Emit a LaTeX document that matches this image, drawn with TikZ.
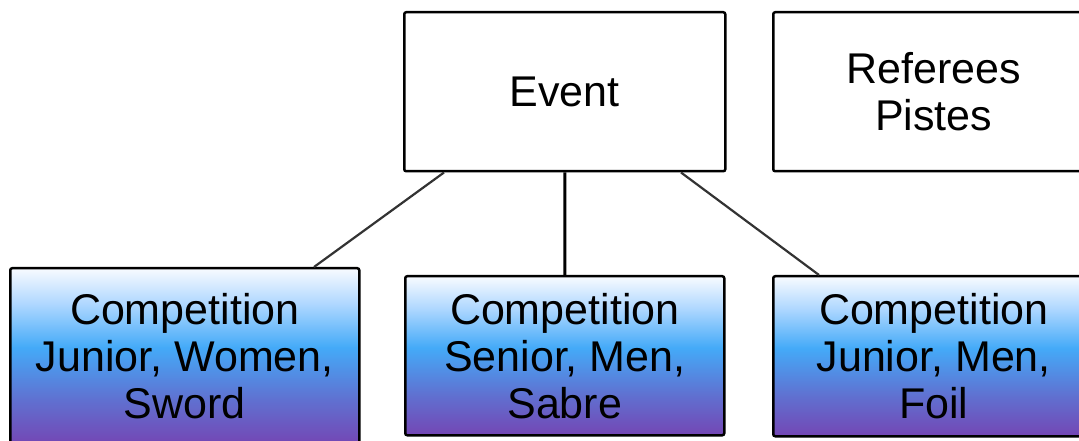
\documentclass[tikz,border=0pt]{standalone}
\usepackage{fontspec}
\setmainfont{Liberation Sans}
\usetikzlibrary{calc}
\definecolor{gTop}{HTML}{F8FBFF}
\definecolor{gHi}{HTML}{B0D8FF}
\definecolor{gMid}{HTML}{44AAF8}
\definecolor{gLow}{HTML}{6070D0}
\definecolor{gBot}{HTML}{7446B4}
\pgfdeclareverticalshading{compgrad}{100bp}{color(0bp)=(gBot); color(25bp)=(gBot); color(37.5bp)=(gLow); color(52.5bp)=(gMid); color(65bp)=(gHi); color(75bp)=(gTop); color(100bp)=(gTop)}
\tikzset{
  box/.style={draw=black, line width=2.5bp, rounded corners=2bp, inner sep=0pt, align=center,
    font=\fontsize{43bp}{47bp}\selectfont, anchor=north west},
  compbox/.style={box, shading=compgrad},
  link/.style={draw=black!80, line width=2.2bp}
}
\begin{document}
\begin{tikzpicture}[x=1bp,y=-1bp]
\useasboundingbox (0,0) rectangle (1079,441);
\clip (0,0) rectangle (1079,441);
\node[box, minimum width=321bp, minimum height=159bp] (ev) at (403,11) {Event};
\node[box, minimum width=321bp, minimum height=159bp] (ref) at (772,11) {Referees\\Pistes};
\node[compbox, minimum width=349bp, minimum height=176bp] (c1) at (9,267) {Competition\\Junior, Women,\\Sword};
\node[compbox, minimum width=319bp, minimum height=159bp] (c2) at (404,275) {Competition\\Senior, Men,\\Sabre};
\node[compbox, minimum width=321bp, minimum height=160bp] (c3) at (772,275) {Competition\\Junior, Men,\\Foil};
\draw[link] ($(ev.south west)+(41,0)$) -- ($(c1.north west)+(305,0)$);
\draw[link, line width=3bp, draw=black] (ev.south) -- (c2.north);
\draw[link] ($(ev.south west)+(278,0)$) -- ($(c3.north west)+(47,0)$);
\end{tikzpicture}
\end{document}
